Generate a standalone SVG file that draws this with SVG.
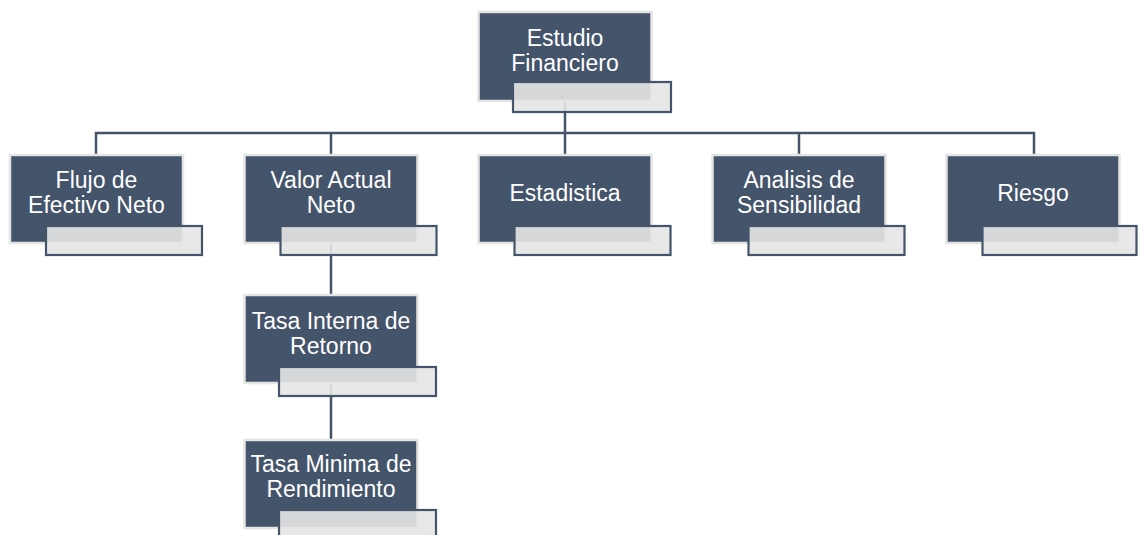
<svg xmlns="http://www.w3.org/2000/svg" width="1139" height="535" viewBox="0 0 1139 535">
<style>
.box{fill:#44546a;stroke:#e4e4e4;stroke-width:2.5}
.sub{fill:#e6e6e6;fill-opacity:0.9;stroke:#44546a;stroke-width:2.2}
.lbl{font-family:"Liberation Sans",Arial,sans-serif;font-size:23px;fill:#ffffff;text-anchor:middle}
.con{stroke:#44546a;stroke-width:2.5;fill:none}
</style>
<rect width="1139" height="535" fill="#ffffff"/>
<g id="connectors">
<path class="con" d="M565,102V133M96,155V133H1034V155M331,133V155M565,133V155M799,133V155M331,243V295M331,383V440"/>
</g>
<g id="n-estudio">
<rect class="box" x="478.5" y="12" width="173" height="89"/>
<rect class="sub" x="513" y="82" width="158" height="30"/>
<text class="lbl" x="565" y="46">Estudio</text>
<text class="lbl" x="565" y="71">Financiero</text>
</g>
<g id="n-flujo">
<rect class="box" x="10" y="155" width="173" height="88"/>
<rect class="sub" x="46" y="226" width="156" height="29"/>
<text class="lbl" x="96.5" y="188">Flujo de</text>
<text class="lbl" x="96.5" y="213">Efectivo Neto</text>
</g>
<g id="n-van">
<rect class="box" x="244.5" y="155" width="173" height="88"/>
<rect class="sub" x="280.5" y="226" width="156" height="29"/>
<text class="lbl" x="331" y="188">Valor Actual</text>
<text class="lbl" x="331" y="213">Neto</text>
</g>
<g id="n-estadistica">
<rect class="box" x="478.5" y="155" width="173" height="88"/>
<rect class="sub" x="514.5" y="226" width="156" height="29"/>
<text class="lbl" x="565" y="201">Estadistica</text>
</g>
<g id="n-analisis">
<rect class="box" x="712.5" y="155" width="173" height="88"/>
<rect class="sub" x="748.5" y="226" width="156" height="29"/>
<text class="lbl" x="799" y="188">Analisis de</text>
<text class="lbl" x="799" y="213">Sensibilidad</text>
</g>
<g id="n-riesgo">
<rect class="box" x="946.5" y="155" width="173" height="88"/>
<rect class="sub" x="982.5" y="226" width="154" height="29"/>
<text class="lbl" x="1033" y="201">Riesgo</text>
</g>
<g id="n-tir">
<rect class="box" x="244.5" y="295" width="173" height="88"/>
<rect class="sub" x="279" y="367" width="157" height="29"/>
<text class="lbl" x="331" y="329">Tasa Interna de</text>
<text class="lbl" x="331" y="354">Retorno</text>
</g>
<g id="n-tmar">
<rect class="box" x="244.5" y="440" width="173" height="88"/>
<rect class="sub" x="279" y="510" width="157" height="30"/>
<text class="lbl" x="331" y="472">Tasa Minima de</text>
<text class="lbl" x="331" y="497">Rendimiento</text>
</g>
</svg>
